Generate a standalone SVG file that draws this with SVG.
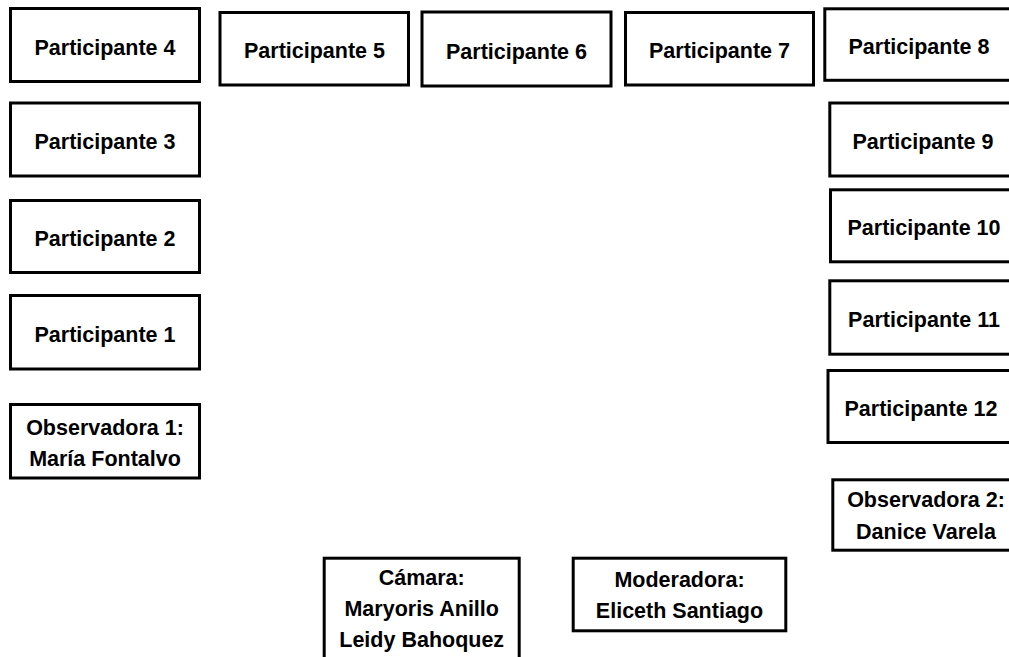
<svg xmlns="http://www.w3.org/2000/svg" width="1009" height="657" viewBox="0 0 1009 657">
<style>
rect.box{fill:#ffffff;stroke:#000000;stroke-width:3}
text{font-family:"Liberation Sans",Arial,sans-serif;font-weight:bold;font-size:21.5px;fill:#000000;text-anchor:middle}
</style>
<rect x="0" y="0" width="1009" height="657" fill="#ffffff"/>
<g id="connectors"></g>
<g id="p4"><rect class="box" x="10.5" y="8.5" width="189" height="73"/><text x="105" y="54.5">Participante 4</text></g>
<g id="p3"><rect class="box" x="10.5" y="103" width="189" height="73"/><text x="105" y="149">Participante 3</text></g>
<g id="p2"><rect class="box" x="10.5" y="200.5" width="189" height="72"/><text x="105" y="246">Participante 2</text></g>
<g id="p1"><rect class="box" x="10.5" y="295.5" width="189" height="73.5"/><text x="105" y="341.5">Participante 1</text></g>
<g id="obs1"><rect class="box" x="10.5" y="404.5" width="189" height="73.5"/><text x="105" y="434.5">Observadora 1:</text><text x="105" y="466">María Fontalvo</text></g>
<g id="p5"><rect class="box" x="220" y="12.5" width="188.5" height="72.5"/><text x="314.5" y="58">Participante 5</text></g>
<g id="p6"><rect class="box" x="422" y="12" width="189" height="74"/><text x="516.5" y="58.5">Participante 6</text></g>
<g id="p7"><rect class="box" x="625.5" y="12.5" width="188" height="72.5"/><text x="719.5" y="58">Participante 7</text></g>
<g id="p8"><rect class="box" x="824.8" y="8.8" width="200" height="71.5"/><text x="919" y="54">Participante 8</text></g>
<g id="p9"><rect class="box" x="829.8" y="103" width="200" height="73"/><text x="923" y="149">Participante 9</text></g>
<g id="p10"><rect class="box" x="830.5" y="189.8" width="200" height="72"/><text x="924" y="235.3">Participante 10</text></g>
<g id="p11"><rect class="box" x="829.8" y="280.8" width="200" height="73.4"/><text x="924" y="327">Participante 11</text></g>
<g id="p12"><rect class="box" x="828" y="370.5" width="200" height="72"/><text x="921" y="416">Participante 12</text></g>
<g id="obs2"><rect class="box" x="832.8" y="479.8" width="200" height="70.4"/><text x="926" y="507">Observadora 2:</text><text x="926" y="538.5">Danice Varela</text></g>
<g id="camara"><rect class="box" x="324.2" y="558.2" width="195" height="120"/><text x="421.7" y="585">Cámara:</text><text x="421.7" y="616">Maryoris Anillo</text><text x="421.7" y="647">Leidy Bahoquez</text></g>
<g id="moderadora"><rect class="box" x="573.2" y="558.2" width="212.6" height="72.6"/><text x="679.5" y="587">Moderadora:</text><text x="679.5" y="618">Eliceth Santiago</text></g>
</svg>
